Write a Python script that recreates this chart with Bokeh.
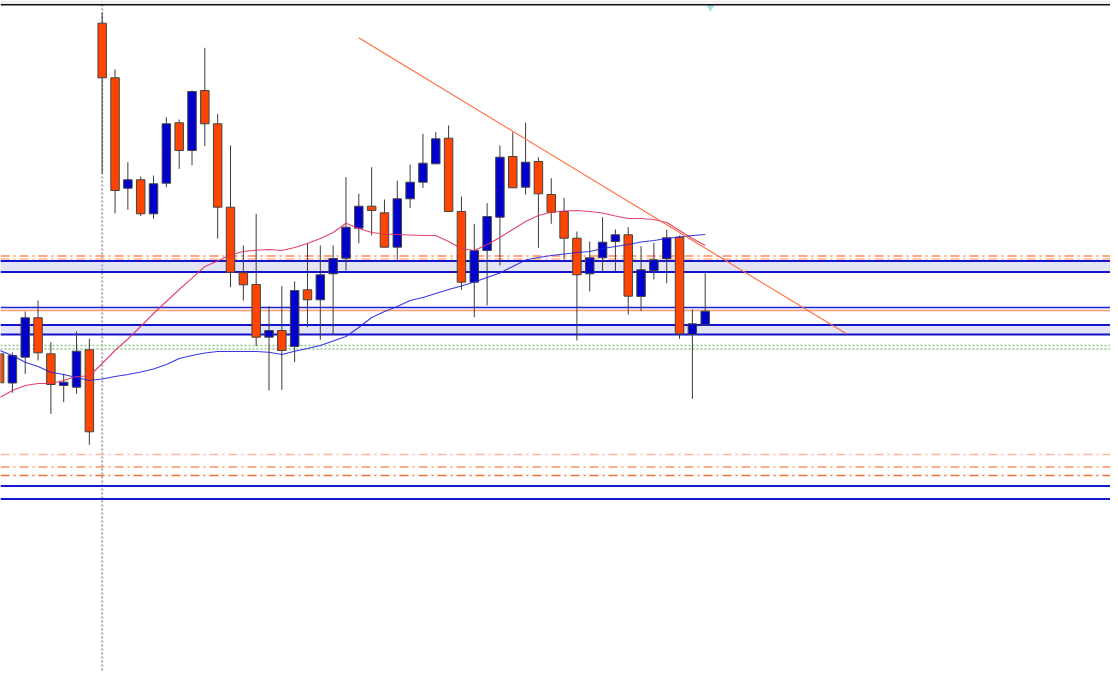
from bokeh.plotting import figure
from bokeh.models import ColumnDataSource, Range1d, Span, BoxAnnotation
from bokeh.embed import file_html
from bokeh.resources import INLINE

# ---- data ----
bars = list(range(-8, 48))
opens = [1346.7, 1317.5, 1343.3, 1382.7, 1346.7, 1315.0, 1313.3, 1350.7,
         1677.3, 1622.7, 1512.3, 1520.7, 1486.7, 1517.3, 1577.7, 1550.0, 1610.0, 1576.7,
         1493.3, 1427.7, 1416.0, 1363.3, 1370.0, 1354.0, 1410.7, 1400.7, 1426.7, 1442.3,
         1472.3, 1494.3, 1487.7, 1453.3, 1501.7, 1518.3, 1536.7, 1562.3, 1489.0, 1418.3,
         1450.0, 1483.3, 1544.0, 1513.3, 1539.0, 1506.0, 1489.0, 1462.3, 1426.7, 1442.7,
         1459.0, 1465.7, 1404.0, 1430.0, 1441.7, 1463.3, 1366.0, 1375.7]
highs = [1352.0, 1348.0, 1389.0, 1400.0, 1358.3, 1326.7, 1369.0, 1361.7,
         1688.0, 1631.0, 1538.3, 1524.0, 1525.0, 1583.3, 1581.0, 1610.0, 1652.7, 1586.7,
         1555.0, 1455.0, 1486.7, 1394.3, 1414.3, 1419.0, 1457.7, 1455.0, 1455.0, 1523.3,
         1506.7, 1533.3, 1501.0, 1520.0, 1536.0, 1566.7, 1568.3, 1575.0, 1504.0, 1476.7,
         1497.3, 1555.0, 1568.3, 1577.7, 1543.3, 1522.3, 1502.7, 1469.0, 1459.0, 1483.3,
         1471.0, 1473.3, 1454.3, 1457.7, 1470.7, 1465.0, 1391.0, 1427.3]
lows = [1312.0, 1307.7, 1326.7, 1340.0, 1286.7, 1298.3, 1306.7, 1255.7,
        1527.0, 1487.0, 1490.7, 1484.3, 1481.7, 1513.3, 1531.7, 1535.3, 1554.3, 1462.0,
        1413.3, 1400.0, 1354.3, 1310.0, 1310.7, 1338.3, 1373.3, 1360.7, 1366.0, 1430.0,
        1457.3, 1465.0, 1453.3, 1440.7, 1492.3, 1512.7, 1536.7, 1489.0, 1410.7, 1383.3,
        1395.0, 1435.0, 1512.7, 1506.0, 1452.7, 1476.7, 1441.0, 1360.0, 1409.0, 1429.0,
        1429.0, 1386.0, 1389.3, 1421.0, 1417.3, 1361.7, 1301.7, 1375.7]
closes = [1317.7, 1345.0, 1382.7, 1347.7, 1316.0, 1318.3, 1349.3, 1268.7,
          1622.7, 1510.0, 1520.7, 1486.7, 1516.7, 1576.7, 1550.0, 1609.0, 1576.7, 1493.3,
          1428.3, 1415.7, 1363.3, 1370.0, 1350.0, 1410.0, 1400.7, 1425.7, 1442.0, 1473.3,
          1494.3, 1490.0, 1453.3, 1501.7, 1518.3, 1537.3, 1561.7, 1489.0, 1418.3, 1450.0,
          1484.0, 1543.3, 1512.7, 1538.3, 1506.7, 1488.3, 1462.3, 1425.7, 1442.7, 1458.3,
          1465.7, 1404.3, 1430.7, 1440.7, 1462.7, 1366.7, 1376.7, 1389.3]

ma_fast = [1303, 1310, 1315, 1317, 1317, 1320, 1324, 1324.5,
           1337, 1350, 1361.5, 1374, 1387, 1399, 1411, 1422.3, 1434, 1439.5,
           1445.7, 1449, 1450.3, 1451, 1450, 1453, 1457, 1462, 1468, 1477.3,
           1472, 1468, 1466.5, 1466, 1465.5, 1465, 1465, 1459, 1452, 1450,
           1456, 1463, 1471, 1479, 1485, 1488.3, 1489.5, 1490, 1489, 1487.5,
           1484.5, 1482, 1482, 1481, 1478, 1470, 1462, 1455]
ma_slow = [1350, 1345, 1338.3, 1334, 1328.3, 1326, 1323, 1320,
           1321.5, 1324, 1326, 1328.5, 1331.5, 1336, 1342, 1345, 1347.5, 1349,
           1349, 1349, 1349, 1348.3, 1346, 1349.3, 1352, 1355, 1359.5, 1364,
           1373, 1383, 1389, 1394, 1400, 1403, 1407, 1411, 1414.5, 1418.5,
           1423, 1427.5, 1434, 1440.5, 1443, 1445, 1446.5, 1448, 1449, 1452,
           1454, 1456, 1458.5, 1460, 1462, 1463.5, 1465, 1466]

trend_x = [20, 58]
trend_y = [1662.7, 1366.7]

zone_bands = [(1439.5, 1428.5), (1375.5, 1366.0)]
dashdot_levels = [1444.5, 1441.5, 1246.0, 1233.5, 1225.0]
dashdot_colors = ["#FF8A5C", "#FFB496", "#FFB89E", "#FF9466", "#F0703C"]
thin_levels = [1393.0, 1390.0, 1214.5, 1201.5]
thin_colors = ["#2020D8", "#FF9C78", "#1818CC", "#1818CC"]
thin_widths = [1.5, 1.5, 2, 2]
dotted_levels = [1355.0, 1351.5]
marker_bar = 0
top_strip = (1696.3, 1700.0)
top_rule = 1695.8
arrow_x = [47.41]
arrow_y = [1693.3]

BULL = "#0000CC"
BEAR = "#FF4500"

# ---- figure ----
p = figure(width=1110, height=672, output_backend="svg", toolbar_location=None,
           x_range=Range1d(-7.927, 78.59), y_range=Range1d(1028, 1700),
           min_border=0, background_fill_color="white")
p.axis.visible = False
p.grid.visible = False
p.outline_line_color = None

# zone bands (background)
for top, bot in zone_bands:
    p.add_layout(BoxAnnotation(bottom=bot, top=top, fill_color="#E4E4F9",
                               fill_alpha=1.0, line_color=None, level="underlay"))

# vertical dotted separator
p.add_layout(Span(location=marker_bar, dimension="height", line_color="#A8A8A8",
                  line_width=2, line_dash="2 2", level="underlay"))

for top, bot in zone_bands:
    for lv in (top, bot):
        p.add_layout(Span(location=lv, dimension="width", line_color="#1414CC",
                          line_width=2, level="underlay"))

for lv, c in zip(dashdot_levels, dashdot_colors):
    p.add_layout(Span(location=lv, dimension="width", line_color=c,
                      line_width=1.6, line_dash="9 4 2 4", level="underlay"))
for lv, c, w in zip(thin_levels, thin_colors, thin_widths):
    p.add_layout(Span(location=lv, dimension="width", line_color=c, line_width=w,
                      level="underlay"))
for lv in dotted_levels:
    p.add_layout(Span(location=lv, dimension="width", line_color="#8CC88C",
                      line_width=1.6, line_dash="2 2", level="underlay"))

# top strip of the terminal window
p.add_layout(BoxAnnotation(bottom=top_strip[0], top=top_strip[1], fill_color="#F0F0F0",
                           fill_alpha=1.0, line_color=None))
p.add_layout(Span(location=top_rule, dimension="width", line_color="#101010",
                  line_width=1.6))

# candles
src = ColumnDataSource(dict(
    x=bars, o=opens, h=highs, l=lows, c=closes,
    top=[max(a, b) for a, b in zip(opens, closes)],
    bot=[min(a, b) for a, b in zip(opens, closes)],
    col=[BULL if c >= o else BEAR for o, c in zip(opens, closes)],
))
p.segment(x0="x", y0="l", x1="x", y1="h", source=src, line_color="#3C3C3C", line_width=1)
p.vbar(x="x", width=0.66, top="top", bottom="bot", source=src,
       fill_color="col", line_color="#444444", line_width=1)

# moving averages
p.line(bars, ma_fast, line_color="#E0305C", line_width=1.1, line_alpha=0.9)
p.line(bars, ma_slow, line_color="#2424E0", line_width=1.1, line_alpha=0.9)

# trend line
p.line(trend_x, trend_y, line_color="#FF6A3A", line_width=1.1)

# small marker below the top rule
p.scatter(arrow_x, arrow_y, marker="inverted_triangle", size=8,
          fill_color="#A6DDE6", line_color=None)

open("out.html", "w").write(file_html(p, INLINE))
